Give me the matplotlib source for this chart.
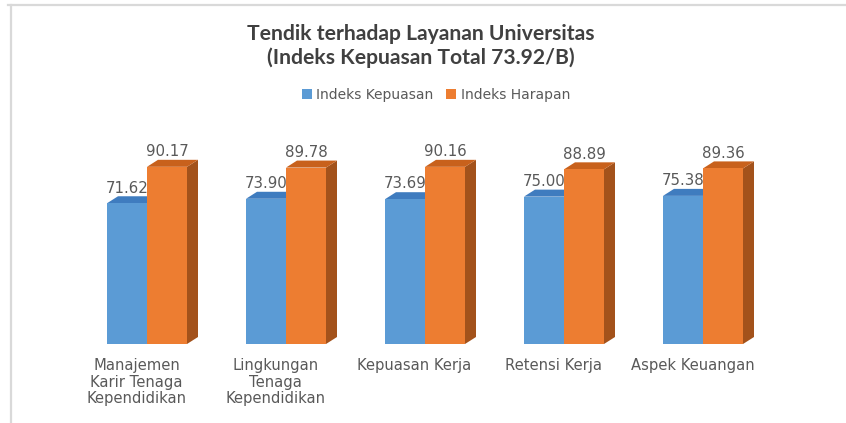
import matplotlib
matplotlib.use("Agg")
import matplotlib.pyplot as plt
from matplotlib.patches import Polygon, Patch
from matplotlib.lines import Line2D

categories = ["Manajemen\nKarir Tenaga\nKependidikan", "Lingkungan\nTenaga\nKependidikan",
              "Kepuasan Kerja", "Retensi Kerja", "Aspek Keuangan"]
kepuasan = [71.62, 73.90, 73.69, 75.00, 75.38]
harapan = [90.17, 89.78, 90.16, 88.89, 89.36]
series_names = ["Indeks Kepuasan", "Indeks Harapan"]
title_lines = ["Tendik terhadap Layanan Universitas", "(Indeks Kepuasan Total 73.92/B)"]

W, H = 846, 423
fig = plt.figure(figsize=(W / 100, H / 100), dpi=100)
fig.patch.set_facecolor("white")

ax = fig.add_axes([0, 79 / H, 1, 344 / H])
px_per_cat = 139.0
px_per_unit = 1.965
ax.set_xlim(-147 / px_per_cat, (W - 147) / px_per_cat)
ax.set_ylim(0, 344 / px_per_unit)
for s in ax.spines.values():
    s.set_visible(False)
ax.set_yticks([])

bw = 40 / px_per_cat          # bar width in data units
ddx = 11 / px_per_cat         # depth offset x
ddy = 7 / px_per_unit         # depth offset y

cols = {
    0: dict(front="#5B9BD5", top="#3F7CBF", side="#3A6FA8"),
    1: dict(front="#ED7D31", top="#C8611C", side="#A3521B"),
}

def draw_bar(xc, h, c, z):
    x0, x1 = xc - bw / 2, xc + bw / 2
    ax.add_patch(Polygon([(x1, 0), (x1 + ddx, ddy), (x1 + ddx, h + ddy), (x1, h)],
                         closed=True, facecolor=c["side"], edgecolor="none", zorder=z))
    ax.add_patch(Polygon([(x0, h), (x0 + ddx, h + ddy), (x1 + ddx, h + ddy), (x1, h)],
                         closed=True, facecolor=c["top"], edgecolor="none", zorder=z))
    ax.bar([xc], [h], width=bw, color=c["front"], zorder=z + 0.5, linewidth=0)

for i in range(len(categories)):
    xb = i - bw / 2
    xo = i + bw / 2
    draw_bar(xb, kepuasan[i], cols[0], 2)
    draw_bar(xo, harapan[i], cols[1], 3)
    ax.text(xb, kepuasan[i] + ddy + 4.2, f"{kepuasan[i]:.2f}", ha="center", va="center",
            fontsize=10.8, color="#595959", zorder=5)
    ax.text(xo, harapan[i] + ddy + 4.2, f"{harapan[i]:.2f}", ha="center", va="center",
            fontsize=10.8, color="#595959", zorder=5)

ax.set_xticks([i - 0.075 for i in range(len(categories))])
ax.set_xticklabels(categories, fontsize=10.6, color="#595959", linespacing=1.15)
ax.tick_params(axis="x", length=0, pad=10)

fig.text(421 / W, 1 - 34 / H, title_lines[0], ha="center", va="center",
         fontsize=15.2, fontweight="bold", color="#404040", family="Lato")
fig.text(421 / W, 1 - 58 / H, title_lines[1], ha="center", va="center",
         fontsize=15.2, fontweight="bold", color="#404040", family="Lato")

handles = [Patch(facecolor=cols[0]["front"]), Patch(facecolor=cols[1]["front"])]
leg = fig.legend(handles, series_names, loc="center", bbox_to_anchor=(436 / W, 1 - 95 / H),
                 ncol=2, frameon=False, fontsize=10, handlelength=0.7, handleheight=0.7,
                 handletextpad=0.35, columnspacing=0.9)
for t in leg.get_texts():
    t.set_color("#595959")

fig.add_artist(Line2D([8 / W, 1], [1 - 5 / H, 1 - 5 / H], color="#d9d9d9", lw=1.6))
fig.add_artist(Line2D([11 / W, 11 / W], [0, 1 - 5 / H], color="#d9d9d9", lw=1.6))

fig.savefig("out.png", dpi=100, facecolor="white")
